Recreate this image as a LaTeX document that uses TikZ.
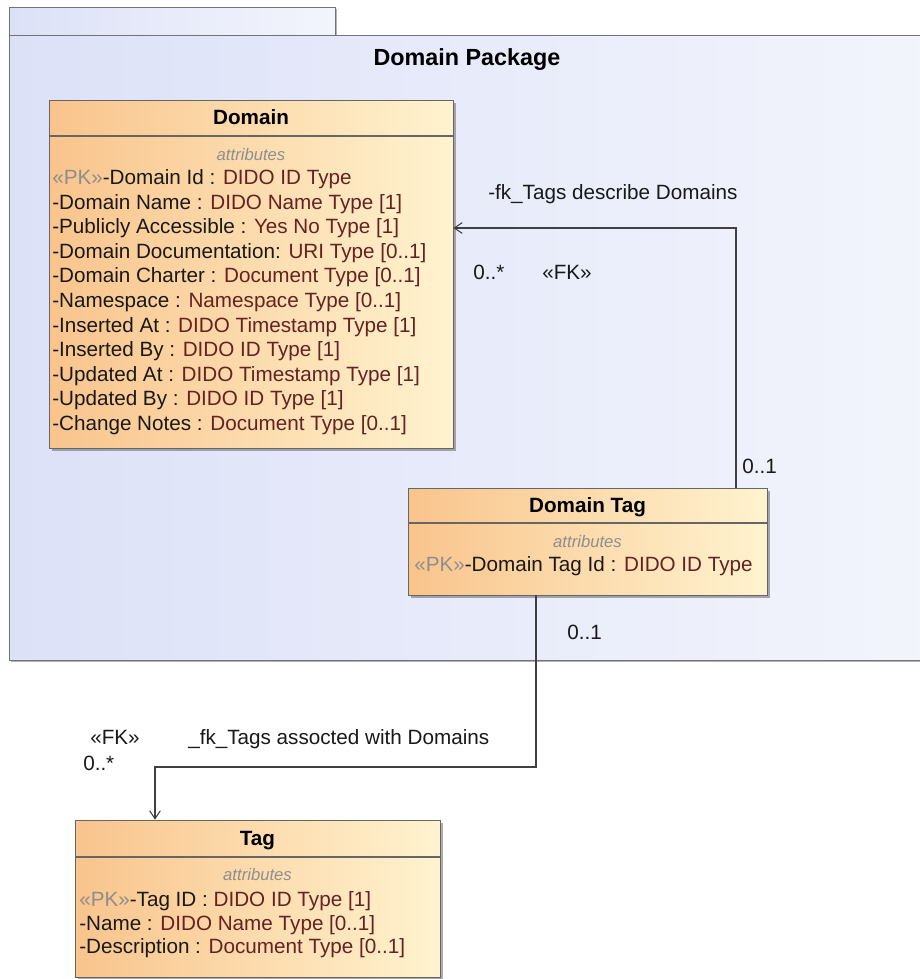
\documentclass[tikz,border=0pt]{standalone}
\usepackage{fontspec}
\setmainfont{Liberation Sans}
\usetikzlibrary{shadows,fit,arrows.meta}
\definecolor{typecol}{HTML}{652222}
\definecolor{pkcol}{HTML}{8E8E8E}
\definecolor{pkgl}{HTML}{DCE1F8}
\definecolor{pkgr}{HTML}{F3F5FC}
\definecolor{clsl}{HTML}{F9C48C}
\definecolor{clsr}{HTML}{FFF3CF}
\definecolor{linecol}{HTML}{404040}
\newcommand\ty[1]{\textcolor{typecol}{#1}}
\newcommand\pkm{\textcolor{pkcol}{«PK»}}
\tikzset{
  pkgbox/.style={draw=black!55, left color=pkgl, right color=pkgr, inner sep=0pt,
    drop shadow={shadow xshift=1.6pt, shadow yshift=-1.6pt, fill=black!50, opacity=0.6}},
  clsbox/.style={draw=black!60, left color=clsl, right color=clsr, inner sep=0pt,
    drop shadow={shadow xshift=2pt, shadow yshift=-2pt, fill=black!55, opacity=0.6}},
  attr/.style={anchor=base west, inner sep=0pt, text=black!90, font=\fontsize{15.5}{18}\selectfont},
  clstitle/.style={anchor=base, inner sep=0pt, font=\fontsize{15.5}{18}\selectfont\bfseries},
  pkgtitle/.style={anchor=base, inner sep=0pt, font=\fontsize{17.5}{20}\selectfont\bfseries},
  attrhead/.style={anchor=base, inner sep=0pt, text=pkcol, font=\fontsize{12.5}{15}\selectfont\itshape},
  lbl/.style={anchor=base west, inner sep=0pt, text=black!90, font=\fontsize{15.5}{18}\selectfont},
  sep/.style={draw=black!60, line width=0.8pt},
  conn/.style={draw=linecol, line width=1pt},
  arr/.style={-{Straight Barb[length=6pt,width=8pt,line width=0.8pt]}}
}
\begin{document}
\begin{tikzpicture}[x=0.75pt,y=-0.75pt]
\useasboundingbox (0,0) rectangle (920,979);
\clip (0,0) rectangle (920,979);
\fill[white] (0,0) rectangle (920,979);

% package
\node[pkgbox, fit={(9,7) (335,35)}] (tab) {};
\node[pkgbox, fit={(9,35) (940,660)}] (pkg) {};
\node[pkgtitle] (pkgt) at (467,65) {Domain Package};

% Domain class
\node[clsbox, fit={(49,100) (453,448)}] (dom) {};
\draw[sep] (dom.west |- 0,136) -- (dom.east |- 0,136);
\node[clstitle] (domt) at (251,124.5) {Domain};
\node[attrhead] (doma) at (251,160.5) {attributes};
\node[attr] (d1) at (52,184.5) {\pkm-Domain Id : \ty{DIDO ID Type}};
\node[attr] (d2) at (52,209.1) {-Domain Name : \ty{DIDO Name Type [1]}};
\node[attr] (d3) at (52,233.7) {-Publicly Accessible : \ty{Yes No Type [1]}};
\node[attr] (d4) at (52,258.3) {-Domain Documentation: \ty{URI Type [0..1]}};
\node[attr] (d5) at (52,282.9) {-Domain Charter : \ty{Document Type [0..1]}};
\node[attr] (d6) at (52,307.5) {-Namespace : \ty{Namespace Type [0..1]}};
\node[attr] (d7) at (52,332.1) {-Inserted At : \ty{DIDO Timestamp Type [1]}};
\node[attr] (d8) at (52,356.7) {-Inserted By : \ty{DIDO ID Type [1]}};
\node[attr] (d9) at (52,381.3) {-Updated At : \ty{DIDO Timestamp Type [1]}};
\node[attr] (d10) at (52,405.9) {-Updated By : \ty{DIDO ID Type [1]}};
\node[attr] (d11) at (52,430.5) {-Change Notes : \ty{Document Type [0..1]}};

% Domain Tag class
\node[clsbox, fit={(408,488) (767,595)}] (dtag) {};
\draw[sep] (dtag.west |- 0,523) -- (dtag.east |- 0,523);
\node[clstitle] (dtagt) at (587.5,512.5) {Domain Tag};
\node[attrhead] (dtaga) at (587.5,547.5) {attributes};
\node[attr] (t1) at (414,571.5) {\pkm-Domain Tag Id : \ty{DIDO ID Type}};

% Tag class
\node[clsbox, fit={(75,820) (440,977)}] (tag) {};
\draw[sep] (tag.west |- 0,857) -- (tag.east |- 0,857);
\node[clstitle] (tagt) at (257.5,845.5) {Tag};
\node[attrhead] (taga) at (257.5,880.5) {attributes};
\node[attr] (g1) at (79,906.5) {\pkm-Tag ID : \ty{DIDO ID Type [1]}};
\node[attr] (g2) at (79,930) {-Name : \ty{DIDO Name Type [0..1]}};
\node[attr] (g3) at (79,953.5) {-Description : \ty{Document Type [0..1]}};

% connectors
\coordinate (c1) at (736,228);
\coordinate (c2) at (536,767);
\coordinate (c3) at (155,767);
\draw[conn, arr] (dtag.north -| c1) |- (dom.east |- c1);
\draw[conn, arr] (dtag.south -| c2) |- (c3) -- (tag.north -| c3);

% labels
\node[lbl] (l1) at (488,199) {-fk\_Tags describe Domains};
\node[lbl] (l2) at (473,279) {0..*};
\node[lbl] (l3) at (542,279) {«FK»};
\node[lbl] (l4) at (742,473) {0..1};
\node[lbl] (l5) at (567,639) {0..1};
\node[lbl] (l6) at (90,744) {«FK»};
\node[lbl] (l7) at (188,744) {\_fk\_Tags assocted with Domains};
\node[lbl] (l8) at (83,770) {0..*};
\end{tikzpicture}
\end{document}
